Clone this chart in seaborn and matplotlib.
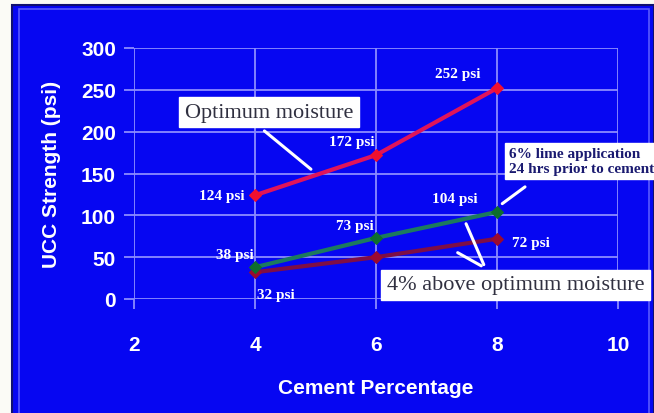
import pandas as pd
import matplotlib
matplotlib.use("Agg")
import matplotlib.pyplot as plt
import matplotlib.patches as mpatches
import seaborn as sns

# datos
cemento = [4, 6, 8]
optimo = [124, 172, 252]
cal = [38, 73, 104]
sobre_optimo = [32, 50, 72]

etiquetas_optimo = ["124 psi", "172 psi", "252 psi"]
etiquetas_cal = ["38 psi", "73 psi", "104 psi"]
etiquetas_sobre = ["32 psi", "", "72 psi"]

xticks = [2, 4, 6, 8, 10]
yticks = [0, 50, 100, 150, 200, 250, 300]

azul = "#0606F2"
grid_col = "#8C8CFF"

sns.set_style("white")
plt.rcParams["font.family"] = ["Liberation Sans", "DejaVu Sans"]

fig = plt.figure(figsize=(6.54, 4.14), dpi=100)
fig.patch.set_facecolor("#FBFBF6")

# fondo de la diapositiva
fig.patches.append(mpatches.Rectangle((12 / 654, -0.01), 642 / 654, 1 - 6 / 414 + 0.01,
                                      transform=fig.transFigure, facecolor=azul,
                                      edgecolor="#101070", lw=1.5, zorder=-10))
fig.patches.append(mpatches.Rectangle((19 / 654, -0.05), 630 / 654, 1 - 10 / 414 + 0.05,
                                      transform=fig.transFigure, fill=False,
                                      edgecolor="#5A5AFF", lw=1.2, zorder=-9))

ax = fig.add_axes([134 / 654, 1 - 300 / 414, 484 / 654, 251 / 414])
ax.patch.set_alpha(0)

df = pd.DataFrame({
    "Cemento": cemento * 3,
    "UCC": optimo + cal + sobre_optimo,
    "Serie": ["optimo"] * 3 + ["cal"] * 3 + ["sobre"] * 3,
})
colores = {"optimo": "#E0145A", "cal": "#1C7A5E", "sobre": "#7E0E46"}
marcas = {"optimo": "#F01030", "cal": "#0E6E2E", "sobre": "#9A0A30"}

for serie in ["sobre", "cal", "optimo"]:
    sub = df[df["Serie"] == serie]
    sns.lineplot(data=sub, x="Cemento", y="UCC", ax=ax, color=colores[serie],
                 lw=3, marker="D", markersize=6, markerfacecolor=marcas[serie],
                 markeredgecolor=marcas[serie], zorder=5)

ax.set_xlim(2, 10)
ax.set_ylim(0, 300)
ax.set_xticks(xticks)
ax.set_yticks(yticks)
ax.grid(True, color=grid_col, lw=1.3)
for s in ax.spines.values():
    s.set_visible(False)
ax.tick_params(axis="both", colors=grid_col, length=7, width=1.3, direction="out",
               bottom=True, left=True)
ax.tick_params(axis="y", pad=6)
ax.tick_params(axis="x", pad=19)
for t in ax.get_xticklabels() + ax.get_yticklabels():
    t.set_color("white")
    t.set_fontsize(15)
    t.set_fontweight("bold")

ax.set_xlabel("Cement Percentage", color="white", fontsize=15, fontweight="bold", labelpad=17)
ax.set_ylabel("UCC Strength (psi)", color="white", fontsize=15, fontweight="bold", labelpad=14)

serif = ["Liberation Serif", "DejaVu Serif"]
lab = dict(color="white", fontsize=11, fontweight="bold", family=serif, zorder=6)

# etiquetas de valores
ax.text(3.82, 124, etiquetas_optimo[0], ha="right", va="center", **lab)
ax.text(5.6, 180, etiquetas_optimo[1], ha="center", va="bottom", **lab)
ax.text(7.35, 262, etiquetas_optimo[2], ha="center", va="bottom", **lab)
ax.text(3.97, 45, etiquetas_cal[0], ha="right", va="bottom", **lab)
ax.text(5.65, 80, etiquetas_cal[1], ha="center", va="bottom", **lab)
ax.text(7.3, 112, etiquetas_cal[2], ha="center", va="bottom", **lab)
ax.text(4.04, 5, etiquetas_sobre[0], ha="left", va="center", **lab)
ax.text(8.25, 68, etiquetas_sobre[2], ha="left", va="center", **lab)

# cajas de texto
caja = dict(boxstyle="square,pad=0.25", facecolor="white", edgecolor="white")
ax.text(4.23, 223, "Optimum moisture", ha="center", va="center", fontsize=16,
        family=serif, color="#303040", bbox=caja, zorder=7)
ax.text(8.2, 165, "6% lime application\n24 hrs prior to cement", ha="left", va="center",
        fontsize=11, fontweight="bold", family=serif, color="#1A1A70", linespacing=1.15,
        bbox=dict(boxstyle="square,pad=0.3", facecolor="white", edgecolor="white"),
        zorder=7, clip_on=False)
ax.text(6.18, 17, "4% above optimum moisture", ha="left", va="center", fontsize=16,
        family=serif, color="#303040", bbox=caja, zorder=7, clip_on=False)

# flechas
flecha = dict(arrowstyle="-", color="white", lw=2.2)
ax.annotate("", xy=(4.96, 153), xytext=(4.12, 203), arrowprops=flecha, zorder=6)
ax.annotate("", xy=(8.05, 112), xytext=(8.5, 136), arrowprops=flecha, zorder=6)
ax.annotate("", xy=(7.47, 93), xytext=(7.8, 38), arrowprops=flecha, zorder=6)
ax.annotate("", xy=(7.31, 57), xytext=(7.78, 38), arrowprops=flecha, zorder=6)

fig.savefig("out.png", dpi=100, facecolor=fig.get_facecolor())
